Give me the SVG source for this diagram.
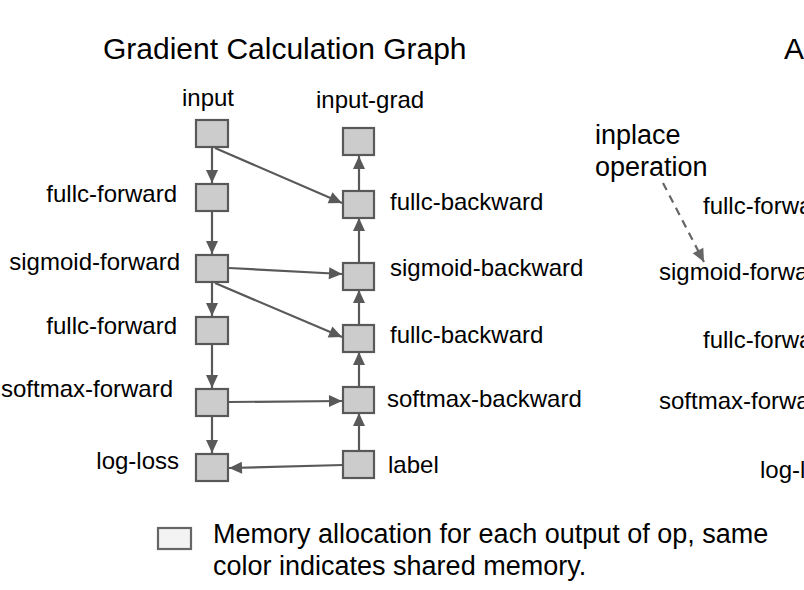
<svg xmlns="http://www.w3.org/2000/svg" width="804" height="590" viewBox="0 0 804 590">
<style>
text{font-family:"Liberation Sans",Arial,sans-serif;fill:#000}
.lbl{font-size:24px}
.big{font-size:27px}
.title{font-size:30px}
.box{fill:#cccccc;stroke:#595959;stroke-width:2.2}
.leg{fill:#f3f3f3;stroke:#666666;stroke-width:2.2}
.edge{stroke:#595959;stroke-width:2.2;fill:none;marker-end:url(#ah)}
.dash{stroke:#666666;stroke-width:2.2;fill:none;stroke-dasharray:8 6;marker-end:url(#ahd)}
</style>
<defs>
<marker id="ah" markerUnits="userSpaceOnUse" markerWidth="15" markerHeight="15" viewBox="0 0 15 15" refX="14" refY="7.5" orient="auto">
<path d="M1,1.5 L14,7.5 L1,13.5 Z" fill="#595959"/>
</marker>
<marker id="ahd" markerUnits="userSpaceOnUse" markerWidth="15" markerHeight="15" viewBox="0 0 15 15" refX="14" refY="7.5" orient="auto">
<path d="M1,1.5 L14,7.5 L1,13.5 Z" fill="#666666"/>
</marker>
</defs>
<rect width="804" height="590" fill="#ffffff"/>
<text class="title" x="103" y="59">Gradient Calculation Graph</text>
<text class="title" x="784" y="59">A</text>

<g id="connectors">
<line class="edge" x1="212" y1="148" x2="212" y2="183"/>
<line class="edge" x1="212" y1="211" x2="212" y2="254"/>
<line class="edge" x1="212" y1="283" x2="212" y2="316"/>
<line class="edge" x1="212" y1="344" x2="212" y2="388"/>
<line class="edge" x1="212" y1="416" x2="212" y2="453"/>
<line class="edge" x1="215" y1="148" x2="342" y2="203"/>
<line class="edge" x1="229" y1="268" x2="342" y2="274"/>
<line class="edge" x1="215" y1="283" x2="342" y2="337"/>
<line class="edge" x1="229" y1="402" x2="342" y2="401"/>
<line class="edge" x1="343" y1="465" x2="229" y2="468"/>
<line class="edge" x1="359" y1="190" x2="359" y2="156"/>
<line class="edge" x1="359" y1="262" x2="359" y2="218"/>
<line class="edge" x1="359" y1="324" x2="359" y2="290"/>
<line class="edge" x1="359" y1="386" x2="359" y2="352"/>
<line class="edge" x1="359" y1="450" x2="359" y2="413"/>
<line class="dash" x1="663" y1="183" x2="704" y2="262"/>
</g>

<g id="input"><rect class="box" x="196" y="120" width="32" height="27"/><text class="lbl" x="208" y="106" text-anchor="middle">input</text></g>
<g id="fullc-forward-1"><rect class="box" x="196" y="184" width="32" height="27"/><text class="lbl" x="177" y="202" text-anchor="end">fullc-forward</text></g>
<g id="sigmoid-forward"><rect class="box" x="196" y="255" width="32" height="27"/><text class="lbl" x="180" y="270" text-anchor="end">sigmoid-forward</text></g>
<g id="fullc-forward-2"><rect class="box" x="196" y="317" width="32" height="27"/><text class="lbl" x="177" y="334" text-anchor="end">fullc-forward</text></g>
<g id="softmax-forward"><rect class="box" x="196" y="389" width="32" height="27"/><text class="lbl" x="173" y="397" text-anchor="end">softmax-forward</text></g>
<g id="log-loss"><rect class="box" x="196" y="454" width="32" height="27"/><text class="lbl" x="179" y="469" text-anchor="end">log-loss</text></g>

<g id="input-grad"><rect class="box" x="343" y="128" width="31" height="27"/><text class="lbl" x="316" y="108">input-grad</text></g>
<g id="fullc-backward-1"><rect class="box" x="343" y="191" width="31" height="27"/><text class="lbl" x="390" y="210">fullc-backward</text></g>
<g id="sigmoid-backward"><rect class="box" x="343" y="263" width="31" height="27"/><text class="lbl" x="390" y="276">sigmoid-backward</text></g>
<g id="fullc-backward-2"><rect class="box" x="343" y="325" width="31" height="27"/><text class="lbl" x="390" y="343">fullc-backward</text></g>
<g id="softmax-backward"><rect class="box" x="343" y="387" width="31" height="26"/><text class="lbl" x="387" y="407">softmax-backward</text></g>
<g id="label"><rect class="box" x="343" y="451" width="31" height="27"/><text class="lbl" x="388" y="473">label</text></g>

<g id="inplace-note"><text class="big" x="595" y="144">inplace</text><text class="big" x="595" y="176">operation</text></g>
<g id="right-labels">
<text class="lbl" x="703" y="214">fullc-forward</text>
<text class="lbl" x="659" y="280">sigmoid-forward</text>
<text class="lbl" x="703" y="348">fullc-forward</text>
<text class="lbl" x="659" y="409">softmax-forward</text>
<text class="lbl" x="760" y="478">log-loss</text>
</g>

<g id="legend">
<rect class="leg" x="158" y="528" width="33" height="21"/>
<text class="big" x="213" y="543">Memory allocation for each output of op, same</text>
<text class="big" x="213" y="575">color indicates shared memory.</text>
</g>
</svg>
